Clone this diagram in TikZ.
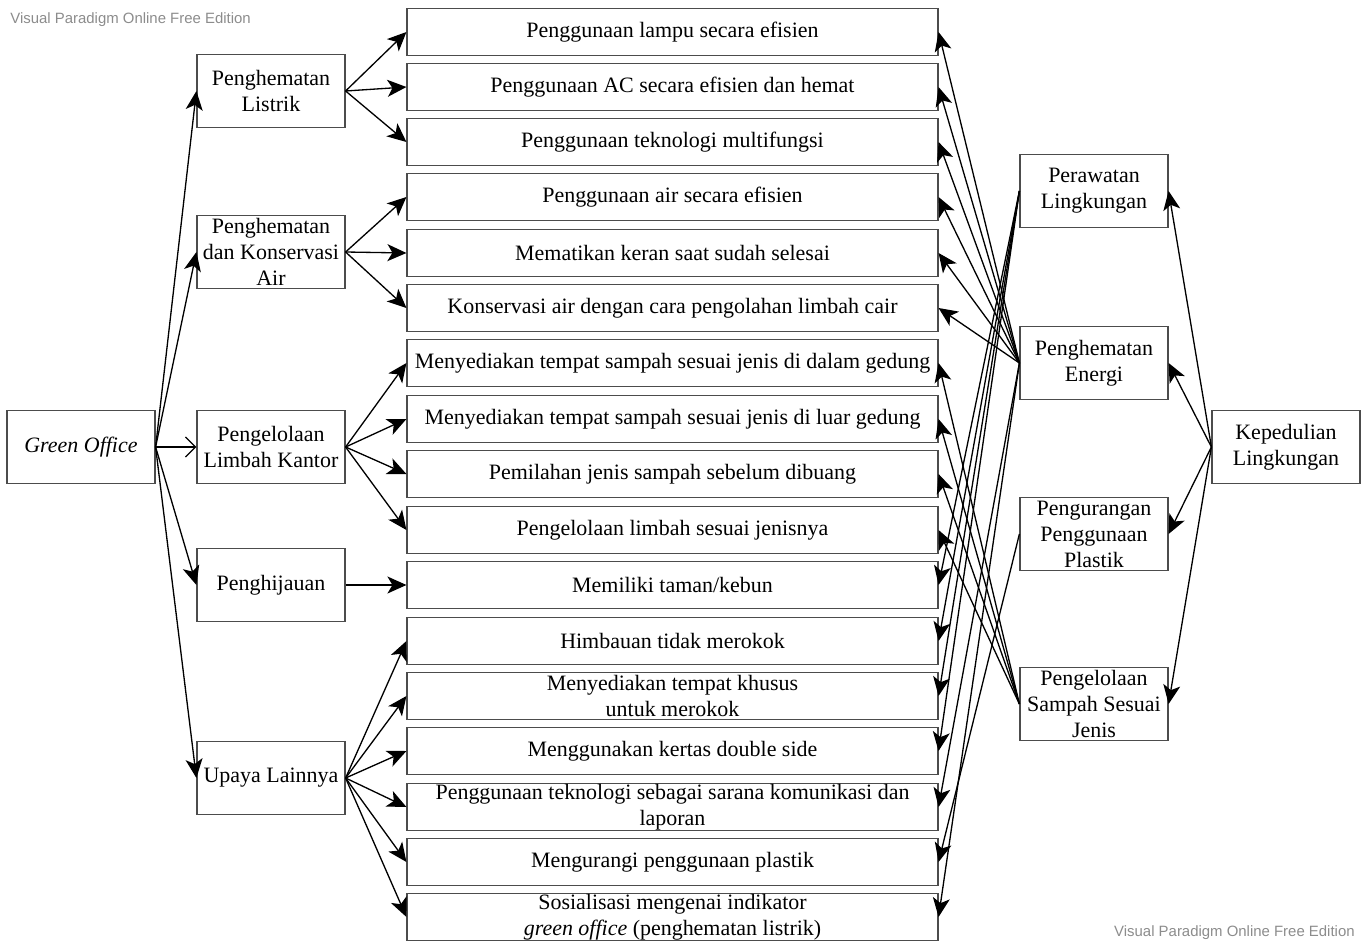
\documentclass[tikz,border=0pt]{standalone}
\usepackage{fontspec}
\setmainfont{Liberation Serif}
\setsansfont{Liberation Sans}
\usetikzlibrary{arrows.meta}

\begin{document}
\begin{tikzpicture}[x=0.02cm,y=-0.02cm,
  box/.style={draw=black!70,line width=0.7pt,fill=white,align=center,inner sep=0pt,font=\fontsize{12.5}{14.8}\selectfont},
  cat/.style={box,minimum width=2.96cm,minimum height=1.46cm},
  item/.style={box,minimum width=10.62cm,minimum height=0.94cm},
  arr/.style={line width=0.75pt,-{Stealth[length=3.8mm,width=3.4mm,inset=1mm]}},
  wm/.style={text=black!45,font=\sffamily\fontsize{8.5}{10}\selectfont,inner sep=0pt}]
\useasboundingbox (0,0) rectangle (1367,943);
\node[wm,anchor=west] (w0) at (10,20) {Visual Paradigm Online Free Edition};
\node[wm,anchor=east] (w1) at (1355,933) {Visual Paradigm Online Free Edition};
% left side
\node[cat] (go) at (81,447) {\textit{Green Office}};
\node[cat] (c1) at (271,91) {Penghematan\\Listrik};
\node[cat] (c2) at (271,252) {Penghematan\\dan Konservasi\\Air};
\node[cat] (c3) at (271,447) {Pengelolaan\\Limbah Kantor};
\node[cat] (c4) at (271,585) {Penghijauan};
\node[cat] (c5) at (271,778) {Upaya Lainnya};
% middle column
\node[item] (m1) at (672.5,32) {Penggunaan lampu secara efisien};
\node[item] (m2) at (672.5,87) {Penggunaan AC secara efisien dan hemat};
\node[item] (m3) at (672.5,142) {Penggunaan teknologi multifungsi};
\node[item] (m4) at (672.5,197) {Penggunaan air secara efisien};
\node[item] (m5) at (672.5,253) {Mematikan keran saat sudah selesai};
\node[item] (m6) at (672.5,308) {Konservasi air dengan cara pengolahan limbah cair};
\node[item] (m7) at (672.5,363) {Menyediakan tempat sampah sesuai jenis di dalam gedung};
\node[item] (m8) at (672.5,419) {Menyediakan tempat sampah sesuai jenis di luar gedung};
\node[item] (m9) at (672.5,474) {Pemilahan jenis sampah sebelum dibuang};
\node[item] (m10) at (672.5,530) {Pengelolaan limbah sesuai jenisnya};
\node[item] (m11) at (672.5,585) {Memiliki taman/kebun};
\node[item] (m12) at (672.5,641) {Himbauan tidak merokok};
\node[item] (m13) at (672.5,696) {Menyediakan tempat khusus\\untuk merokok};
\node[item] (m14) at (672.5,751) {Menggunakan kertas double side};
\node[item] (m15) at (672.5,807) {Penggunaan teknologi sebagai sarana komunikasi dan\\laporan};
\node[item] (m16) at (672.5,862) {Mengurangi penggunaan plastik};
\node[item] (m17) at (672.5,917) {Sosialisasi mengenai indikator\\\textit{green office} (penghematan listrik)};
% right side
\node[cat] (r1) at (1094,191) {Perawatan\\Lingkungan};
\node[cat] (r2) at (1094,363) {Penghematan\\Energi};
\node[cat] (r3) at (1094,534) {Pengurangan\\Penggunaan\\Plastik};
\node[cat] (r4) at (1094,704) {Pengelolaan\\Sampah Sesuai\\Jenis};
\node[cat] (kl) at (1286,447) {Kepedulian\\Lingkungan};
% green office to categories
\foreach \c in {c1,c2,c4,c5} \draw[arr] (go.east) -- (\c.west);
\draw[line width=0.75pt,-{Straight Barb[length=2mm,width=4mm]}] (go.east) -- (c3.west);
% categories to items
\foreach \m in {m1,m2,m3} \draw[arr] (c1.east) -- (\m.west);
\foreach \m in {m4,m5,m6} \draw[arr] (c2.east) -- (\m.west);
\foreach \m in {m7,m8,m9,m10} \draw[arr] (c3.east) -- (\m.west);
\draw[arr] (c4.east) -- (m11.west);
\foreach \m in {m12,m13,m14,m15,m16,m17} \draw[arr] (c5.east) -- (\m.west);
% right groups to items
\foreach \m in {m11,m12,m13,m14} \draw[arr] (r1.west) -- (\m.east);
\foreach \m in {m1,m2,m3,m4,m5,m6,m15,m17} \draw[arr] (r2.west) -- (\m.east);
\draw[arr] (r3.west) -- (m16.east);
\foreach \m in {m7,m8,m9,m10} \draw[arr] (r4.west) -- (\m.east);
% kepedulian
\foreach \r in {r1,r2,r3,r4} \draw[arr] (kl.west) -- (\r.east);
\end{tikzpicture}
\end{document}
